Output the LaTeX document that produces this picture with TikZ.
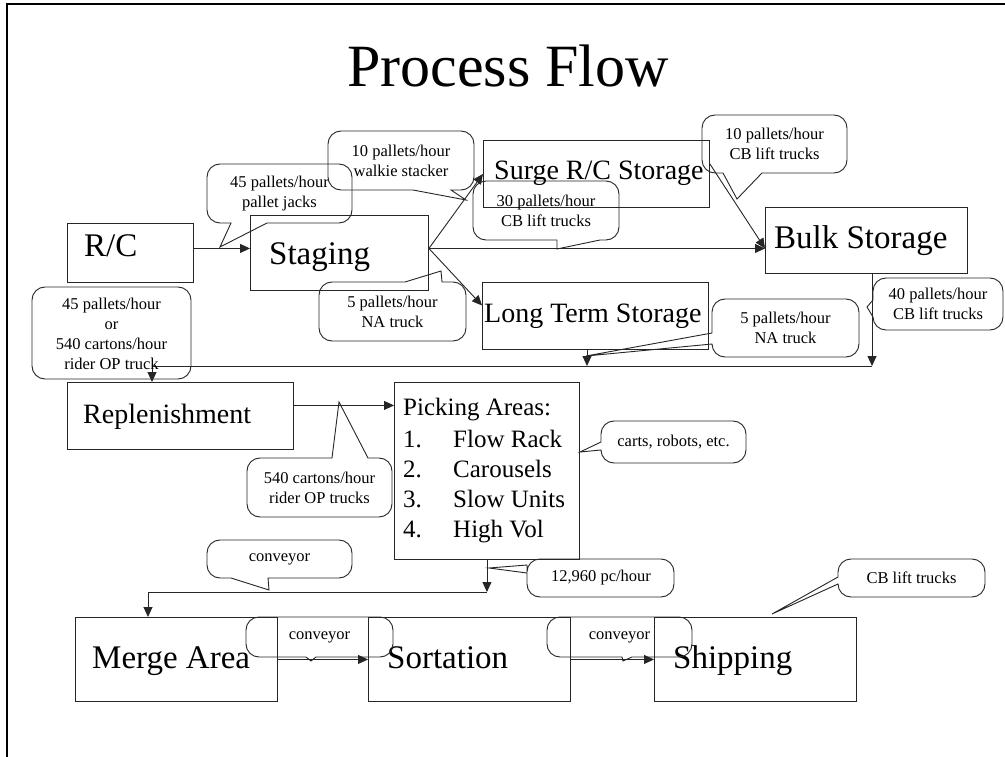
\documentclass[tikz,border=0pt]{standalone}
\usepackage{fontspec}
\setmainfont{Liberation Serif}
\usetikzlibrary{arrows.meta}
\newcommand\titlef{\fontsize{60}{66}\selectfont}
\newcommand\bigf{\fontsize{33}{38}\selectfont}
\newcommand\midf{\fontsize{28}{32}\selectfont}
\newcommand\pickf{\fontsize{25}{30}\selectfont}
\newcommand\callf{\fontsize{16.5}{20}\selectfont}
\tikzset{
  ln/.style={line width=0.9pt, draw=black!85},
  arr/.style={ln, -{Triangle[length=10pt,width=9pt]}},
  box/.style={ln, rectangle, inner sep=0pt, anchor=north west},
  lbl/.style={anchor=base west, inner sep=0pt},
  ctext/.style={align=center, inner sep=0pt, font=\callf},
}
% rounded callout outline: x1,y1,x2,y2, then pointer snippets for top, right, bottom, left
\newcommand\callout[8]{%
  \draw[ln] ({#1+13},#2) #5 -- ({#3-13},#2)
   .. controls ({#3-5.8},#2) and (#3,{#2+5.8}) .. (#3,{#2+13}) #6
   -- (#3,{#4-13}) .. controls (#3,{#4-5.8}) and ({#3-5.8},#4) .. ({#3-13},#4) #7
   -- ({#1+13},#4) .. controls ({#1+5.8},#4) and (#1,{#4-5.8}) .. (#1,{#4-13}) #8
   -- (#1,{#2+13}) .. controls (#1,{#2+5.8}) and ({#1+5.8},#2) .. ({#1+13},#2) -- cycle;}
\begin{document}
\begin{tikzpicture}[x=1pt,y=-1pt]
\fill[white] (0,0) rectangle (1005,757);
\useasboundingbox (0,0) rectangle (1005,757);
% slide frame
\draw[line width=1.2pt] (7,757) -- (7,4) -- (1005,4);
% title
\node[anchor=base, inner sep=0pt, font=\titlef] (title) at (508,87) {Process Flow};

% boxes
\node[box, minimum width=126pt, minimum height=59pt] (rc) at (67,223) {};
\node[box, minimum width=178pt, minimum height=75pt] (stg) at (250,215) {};
\node[box, minimum width=226pt, minimum height=67pt] (surge) at (483,140) {};
\node[box, minimum width=202pt, minimum height=66pt] (bulk) at (765,207) {};
\node[box, minimum width=226pt, minimum height=67pt] (lts) at (482,282) {};
\node[box, minimum width=226pt, minimum height=67pt] (repl) at (67,382) {};
\node[box, minimum width=185pt, minimum height=177pt] (pick) at (394,382) {};
\node[box, minimum width=202pt, minimum height=84pt] (merge) at (75,617) {};
\node[box, minimum width=202pt, minimum height=84pt] (sort) at (368,617) {};
\node[box, minimum width=202pt, minimum height=84pt] (ship) at (654,617) {};

% box labels
\node[lbl, font=\bigf] (rct) at (84,257) {R/C};
\node[lbl, font=\bigf] (stgt) at (269,265) {Staging};
\node[lbl, font=\midf] (surget) at (494,180) {Surge R/C Storage};
\node[lbl, font=\bigf] (bulkt) at (774,248) {Bulk Storage};
\node[lbl, font=\midf] (ltst) at (484,322) {Long Term Storage};
\node[lbl, font=\midf] (replt) at (83,423) {Replenishment};
\node[lbl, font=\pickf] (pick0) at (403,415) {Picking Areas:};
\node[lbl, font=\pickf] (pick1) at (403,447) {\makebox[50pt][l]{1.}Flow Rack};
\node[lbl, font=\pickf] (pick2) at (403,477) {\makebox[50pt][l]{2.}Carousels};
\node[lbl, font=\pickf] (pick3) at (403,507) {\makebox[50pt][l]{3.}Slow Units};
\node[lbl, font=\pickf] (pick4) at (403,537) {\makebox[50pt][l]{4.}High Vol};
\node[lbl, font=\bigf] (merget) at (92,668) {Merge Area};
\node[lbl, font=\bigf] (sortt) at (387,668) {Sortation};
\node[lbl, font=\bigf] (shipt) at (673,668) {Shipping};

% connectors
\coordinate (sE) at ([yshift=4.5pt]stg.east);
\draw[arr] ([yshift=4.5pt]rc.east) -- ([yshift=4.5pt]stg.west);
\draw[arr] (sE) -- (surge.west);
\draw[arr] (sE) -- (sE -| bulk.west);
\draw[arr] (sE) -- ([yshift=10.5pt]lts.west);
\draw[arr] ([yshift=10pt]surge.east) -- (sE -| bulk.west);
\coordinate (c1) at (872,366);
\coordinate (c2) at (152,366);
\coordinate (c3) at (587,366);
\draw[arr] (bulk.south -| c1) -- (c1);
\draw[arr] (lts.south -| c3) -- (c3);
\draw[ln] (c1) -- (c2);
\draw[arr] (c2) -- (c2 |- repl.north);
\draw[arr] ([yshift=10.5pt]repl.east) -- ([yshift=10.5pt]repl.east -| pick.west);
\coordinate (c4) at (148,592);
\draw[arr] (pick.south) -- (pick.south |- c4);
\draw[arr] (pick.south |- c4) -- (c4) -- (merge.north -| c4);
\draw[arr] (merge.east) -- (sort.west);
\draw[arr] (sort.east) -- (ship.west);

% callouts
\callout{207}{164}{352}{223}{}{}{-- (267,223) -- (220,247) -- (231,223)}{}
\node[ctext] (cA) at (279.5,193.5) {45 pallets/hour\\pallet jacks};
\callout{328}{131}{474}{190}{}{}{-- (451,190) -- (466,200) -- (413,190)}{}
\node[ctext] (cB) at (401,160.5) {10 pallets/hour\\walkie stacker};
\callout{473}{181}{619}{240}{}{}{-- (600,240) -- (557,249) -- (557,240)}{}
\node[ctext] (cC) at (546,210.5) {30 pallets/hour\\CB lift trucks};
\callout{702}{115}{847}{173}{}{}{-- (762,173) -- (737,199) -- (723,173)}{}
\node[ctext] (cD) at (774.5,144) {10 pallets/hour\\CB lift trucks};
\callout{873}{278}{1003}{330}{}{}{}{-- (873,317) -- (867,307) -- (873,300)}
\node[ctext] (cE) at (938,304) {40 pallets/hour\\CB lift trucks};
\callout{319}{282}{466}{341}{-- (405,282) -- (441,271) -- (442,282)}{}{}{}
\node[ctext] (cF) at (392.5,311.5) {5 pallets/hour\\NA truck};
\callout{712}{299}{859}{357}{}{}{}{-- (712,344) -- (586,356) -- (712,333)}
\node[ctext] (cG) at (785.5,328) {5 pallets/hour\\NA truck};
\callout{32}{287}{191}{379}{}{}{}{}
\node[ctext] (cH) at (111.5,334) {45 pallets/hour\\or\\540 cartons/hour\\rider OP truck};
\callout{247}{458}{392}{517}{-- (332,458) -- (339,402) -- (368,458)}{}{}{}
\node[ctext] (cI) at (319.5,487.5) {540 cartons/hour\\rider OP trucks};
\callout{601}{421}{746}{463}{}{}{}{-- (601,450) -- (580,452) -- (601,442)}
\node[ctext] (cJ) at (673.5,442) {carts, robots, etc.};
\callout{207}{540}{352}{578}{}{}{-- (268,578) -- (269,590) -- (231,578)}{}
\node[ctext] (cK) at (279.5,559) {conveyor};
\callout{527}{559}{674}{597}{}{}{}{-- (527,573) -- (489,568) -- (527,565)}
\node[ctext] (cL) at (601,578) {12,960 pc/hour};
\callout{838}{559}{985}{597}{}{}{}{-- (838,584) -- (772,614) -- (838,577)}
\node[ctext] (cM) at (911.5,578) {CB lift trucks};
\callout{246}{617}{393}{657}{}{}{-- (316,657) -- (311,661) -- (306,657)}{}
\node[ctext] (cN) at (319.5,637) {conveyor};
\callout{547}{617}{692}{657}{}{}{-- (632,657) -- (623,661) -- (622,657)}{}
\node[ctext] (cO) at (619.5,637) {conveyor};
\end{tikzpicture}
\end{document}
